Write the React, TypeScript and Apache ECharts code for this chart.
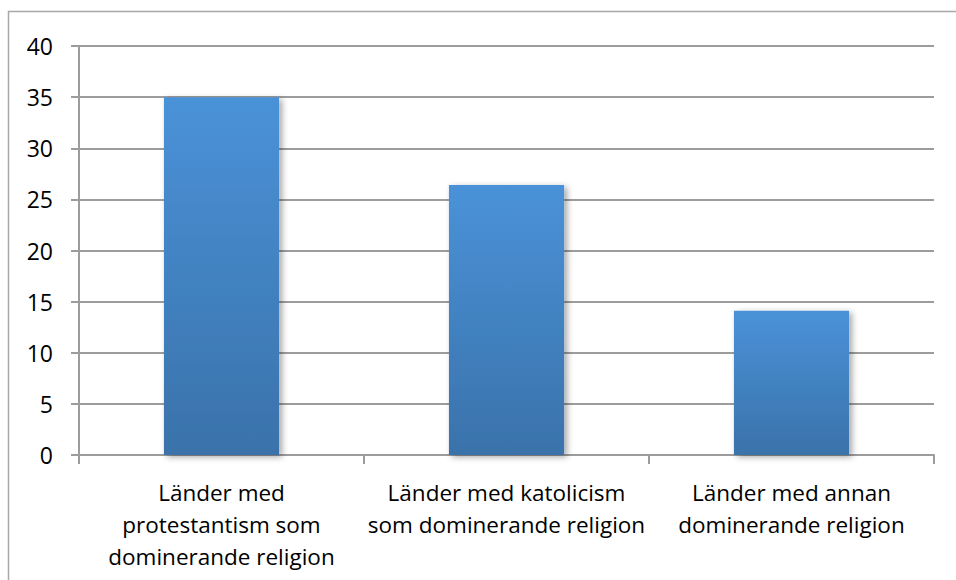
import React, { useEffect, useRef } from "react";
import * as echarts from "echarts";

const categories = [
  "Länder med\nprotestantism som\ndominerande religion",
  "Länder med katolicism\nsom dominerande religion",
  "Länder med annan\ndominerande religion",
];
const values = [35, 26.4, 14.1];
const yTicks = [0, 5, 10, 15, 20, 25, 30, 35, 40];

export default function App() {
  const ref = useRef<HTMLDivElement>(null);
  useEffect(() => {
    if (!ref.current) return;
    const chart = echarts.init(ref.current, null, { renderer: "svg" });
    const font = "'Open Sans', 'Liberation Sans', sans-serif";
    chart.setOption({
      animation: false,
      backgroundColor: "#ffffff",
      grid: { left: 79, right: 22, top: 46, bottom: 125, containLabel: false },
      graphic: [
        {
          type: "rect",
          shape: { x: 8.5, y: 11.5, width: 960, height: 600 },
          style: { fill: "none", stroke: "#a8a8a8", lineWidth: 1.5 },
          silent: true,
          z: -1,
        },
      ],
      xAxis: {
        type: "category",
        data: categories,
        axisLine: { show: true, lineStyle: { color: "#9c9c9c", width: 2 } },
        axisTick: { show: true, length: 9, alignWithLabel: false, lineStyle: { color: "#9c9c9c", width: 2 } },
        axisLabel: {
          interval: 0,
          margin: 21,
          fontFamily: font,
          fontSize: 22.5,
          lineHeight: 32,
          color: "#000000",
          align: "center",
        },
        splitLine: { show: false },
      },
      yAxis: {
        type: "value",
        min: yTicks[0],
        max: yTicks[yTicks.length - 1],
        interval: 5,
        axisLine: { show: true, lineStyle: { color: "#9c9c9c", width: 2 } },
        axisTick: { show: true, length: 8, lineStyle: { color: "#9c9c9c", width: 2 } },
        axisLabel: {
          margin: 26,
          fontFamily: font,
          fontSize: 23,
          color: "#000000",
        },
        splitLine: { show: true, lineStyle: { color: "#9c9c9c", width: 2 } },
      },
      series: [
        {
          type: "bar",
          data: values,
          barWidth: "40.4%",
          itemStyle: {
            color: new echarts.graphic.LinearGradient(0, 0, 0, 1, [
              { offset: 0, color: "#4a92d8" },
              { offset: 1, color: "#3a72aa" },
            ]),
            shadowColor: "rgba(0,0,0,0.35)",
            shadowBlur: 6,
            shadowOffsetX: 3,
            shadowOffsetY: 2,
          },
        },
      ],
    });
    return () => chart.dispose();
  }, []);
  return <div ref={ref} style={{ width: 956, height: 580, position: "absolute", left: 0, top: 0 }} />;
}
